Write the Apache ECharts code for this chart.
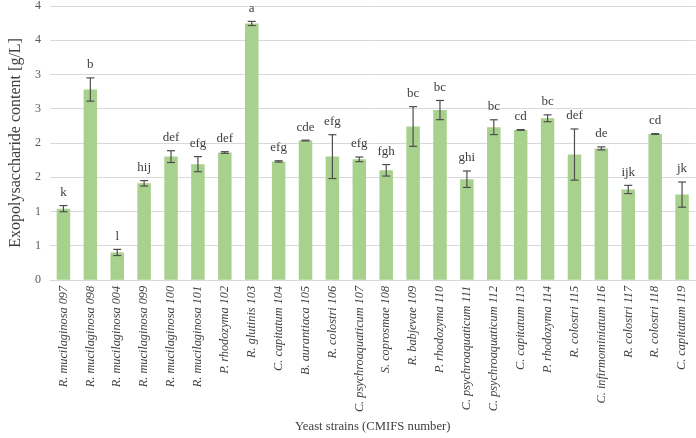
<!DOCTYPE html>
<html>
<head>
<meta charset="utf-8">
<script src="https://cdn.jsdelivr.net/npm/echarts@6/dist/echarts.min.js"></script>
<style>html,body{margin:0;padding:0;background:#fff}#c{width:696px;height:438px}</style>
</head>
<body>
<div id="c"></div>
<script>
var categories = ["R. mucilaginosa 097","R. mucilaginosa 098","R. mucilaginosa 004","R. mucilaginosa 099","R. mucilaginosa 100","R. mucilaginosa 101","P. rhodozyma 102","R. glutinis 103","C. capitatum 104","B. aurantiaca 105","R. colostri 106","C. psychroaquaticum 107","S. coprosmae 108","R. babjevae 109","P. rhodozyma 110","C. psychroaquaticum 111","C. psychroaquaticum 112","C. capitatum 113","P. rhodozyma 114","R. colostri 115","C. infirmominiatum 116","R. colostri 117","R. colostri 118","C. capitatum 119"];
var values = [1.04,2.78,0.40,1.41,1.80,1.69,1.86,3.745,1.73,2.035,1.80,1.76,1.60,2.24,2.48,1.47,2.23,2.19,2.36,1.83,1.92,1.32,2.13,1.245];
var errors = [0.045,0.17,0.045,0.04,0.086,0.11,0.012,0.03,0.01,0.005,0.32,0.034,0.084,0.29,0.14,0.12,0.108,0.005,0.05,0.374,0.022,0.06,0.005,0.184];
var letters = ["k","b","l","hij","def","efg","def","a","efg","cde","efg","efg","fgh","bc","bc","ghi","bc","cd","bc","def","de","ijk","cd","jk"];

var font = "'Liberation Serif','Times New Roman',serif";
var chart = echarts.init(document.getElementById('c'));
var errData = values.map(function(v,i){return [i, v, errors[i]];});
chart.setOption({
  animation:false,
  grid:{left:41.5,right:0.5,top:5,bottom:155,containLabel:false},
  xAxis:{
    type:'category', data:categories,
    axisLine:{lineStyle:{color:'#d9d9d9'}},
    axisTick:{show:false},
    axisLabel:{rotate:90,interval:0,margin:6,fontFamily:font,fontStyle:'italic',fontSize:12.3,color:'#404040'},
    name:'Yeast strains (CMIFS number)', nameLocation:'middle', nameGap:136,
    nameTextStyle:{fontFamily:font,fontSize:12.7,color:'#404040'}
  },
  yAxis:{
    type:'value', min:0, max:4, interval:0.5,
    axisLine:{show:false}, axisTick:{show:false},
    splitLine:{lineStyle:{color:'#d9d9d9'}},
    axisLabel:{margin:9,fontFamily:font,fontSize:12,color:'#595959',formatter:function(v){return String(Math.round(v));}},
    name:'Exopolysaccharide content [g/L]', nameLocation:'middle', nameGap:26, nameRotate:90,
    nameTextStyle:{fontFamily:font,fontSize:16,color:'#404040'}
  },
  series:[
    {type:'bar', data:values, barWidth:13.5, itemStyle:{color:'#a9d18e'}, silent:true},
    {type:'custom', data:errData, z:5, silent:true,
     renderItem:function(params, api){
       var i = api.value(0), v = api.value(1), e = api.value(2);
       var top = api.coord([i, v+e]);
       var bot = api.coord([i, v-e]);
       var x = top[0], hw = 4;
       var st = {stroke:'#4d4d4d', lineWidth:1.2};
       return {type:'group', children:[
         {type:'line', shape:{x1:x,y1:top[1],x2:x,y2:bot[1]}, style:st},
         {type:'line', shape:{x1:x-hw,y1:top[1],x2:x+hw,y2:top[1]}, style:st},
         {type:'line', shape:{x1:x-hw,y1:bot[1],x2:x+hw,y2:bot[1]}, style:st},
         {type:'text', x:x, y:top[1]-13, style:{text:letters[params.dataIndex], fill:'#404040', font:'13px '+font, align:'center', verticalAlign:'middle'}}
       ]};
     }}
  ]
});
</script>
</body>
</html>
